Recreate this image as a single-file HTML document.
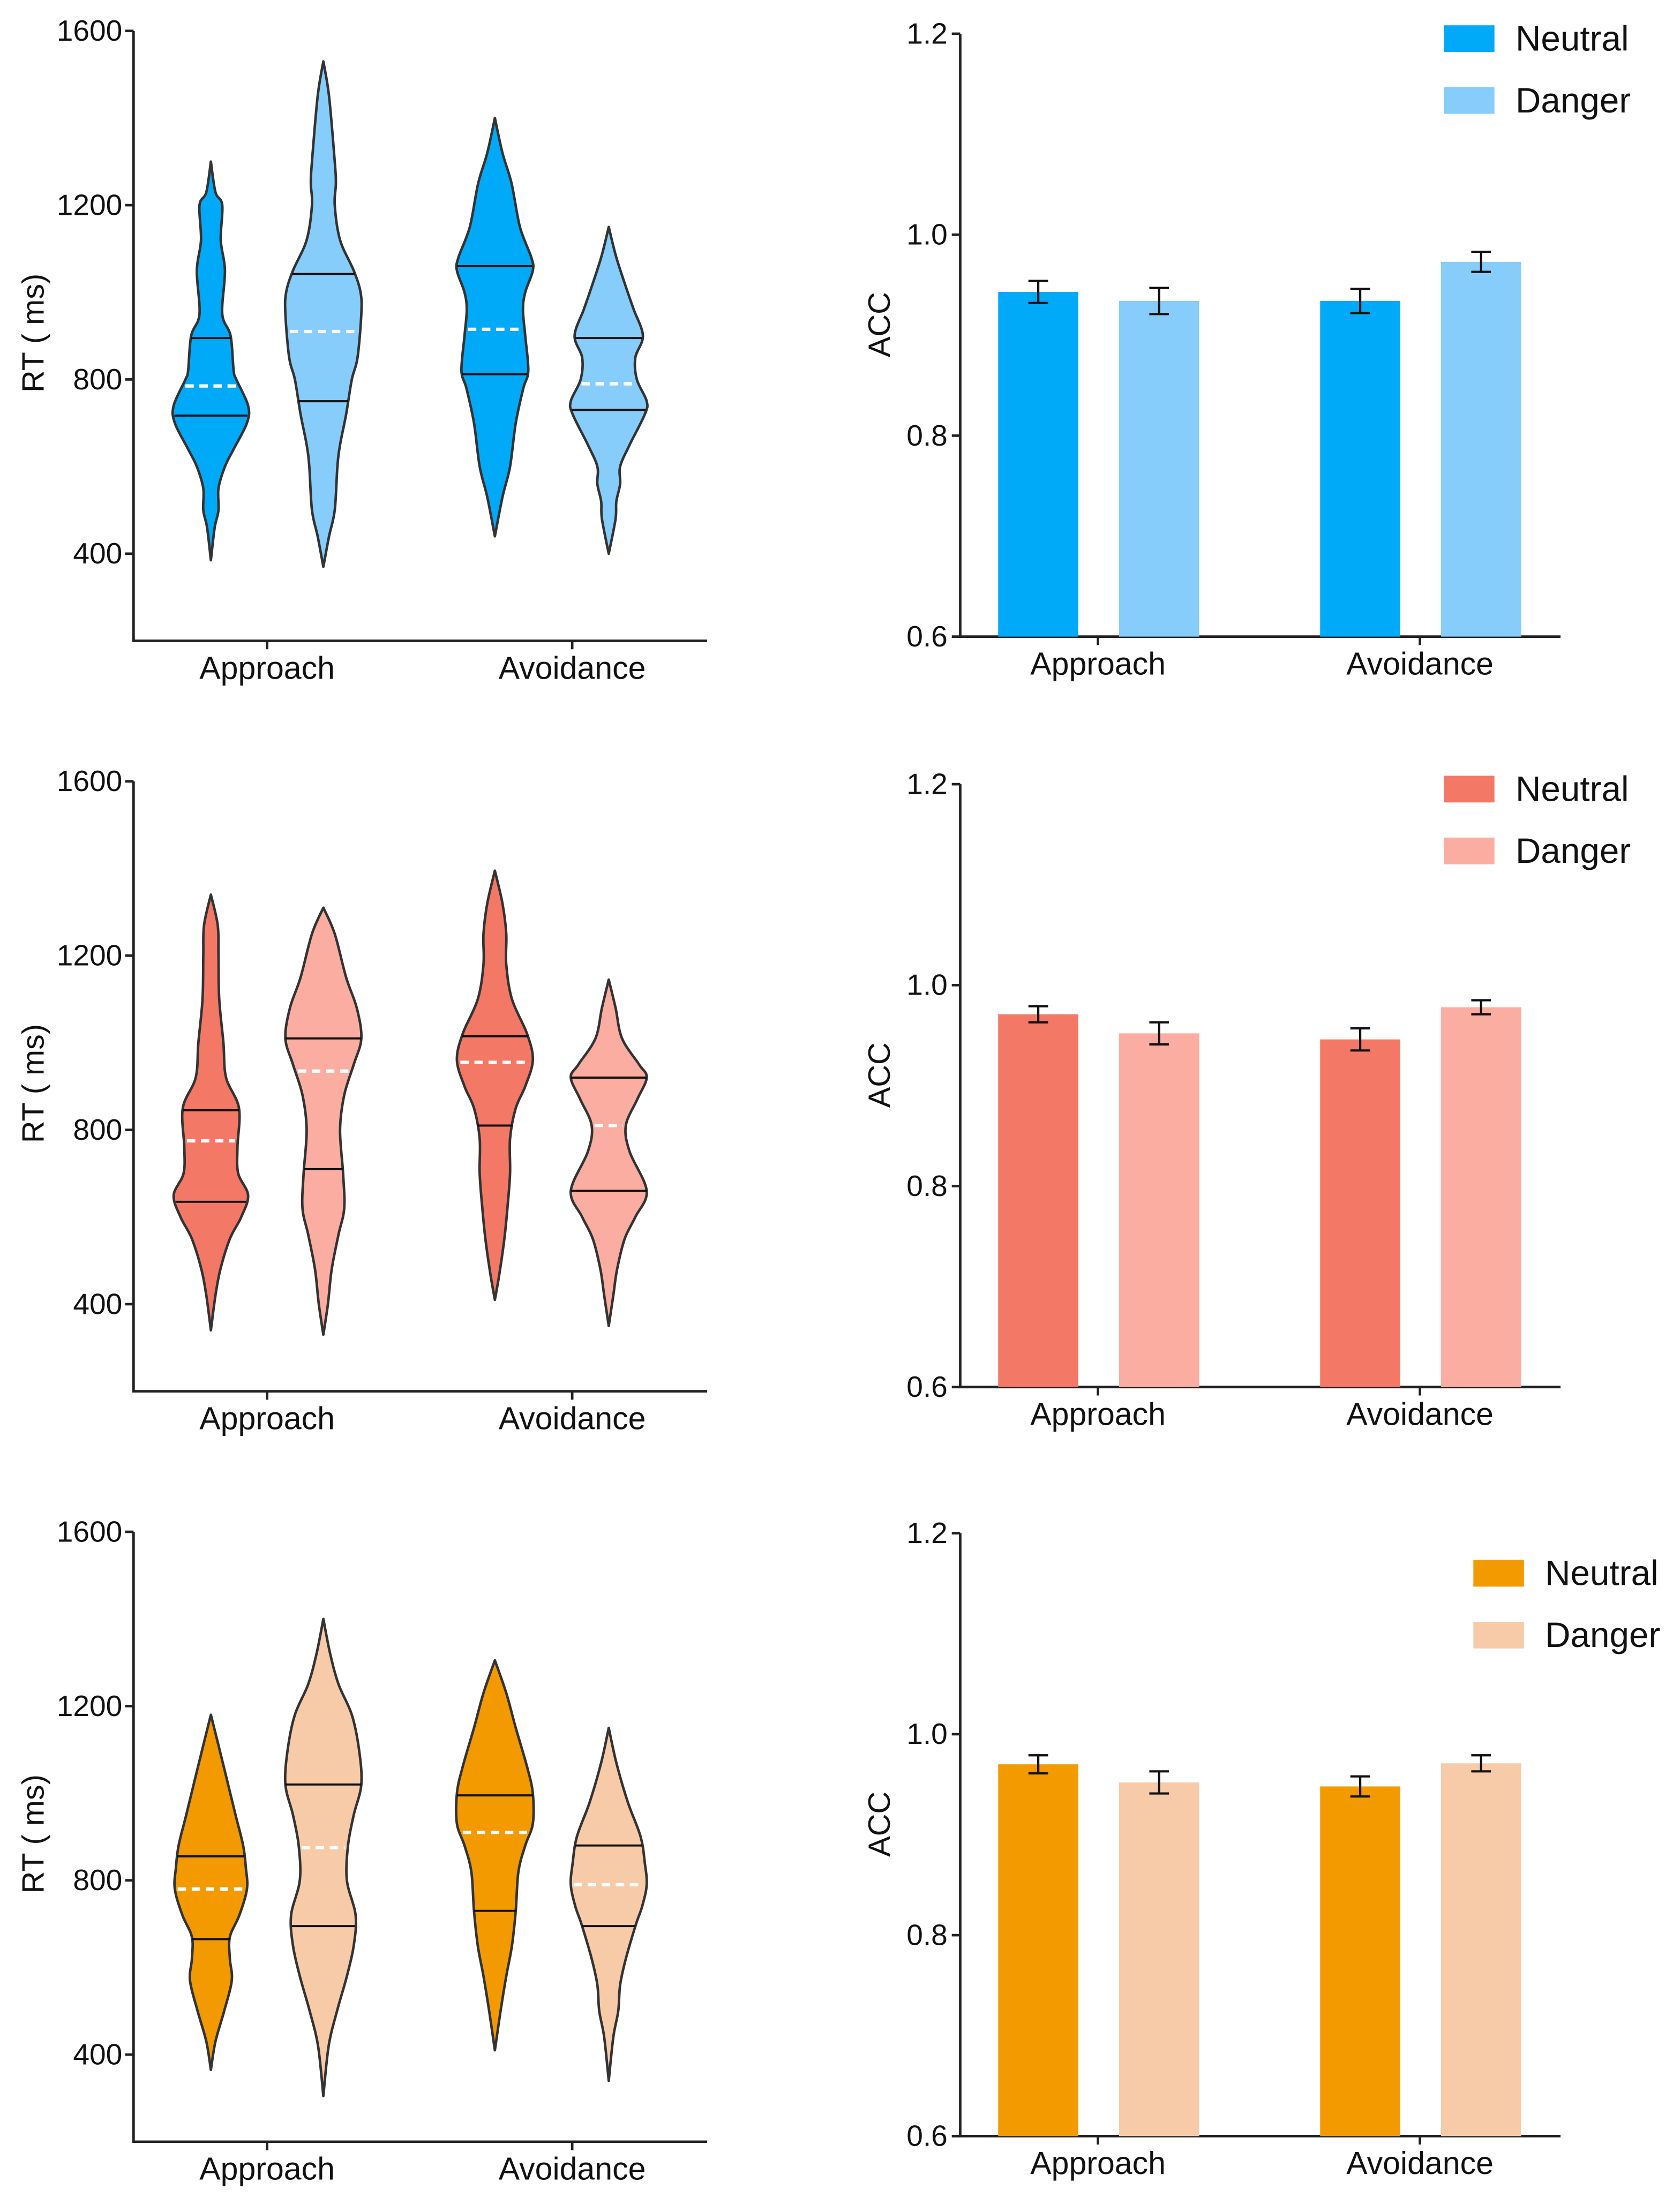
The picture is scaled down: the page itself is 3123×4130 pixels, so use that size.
<!DOCTYPE html>
<html><head><meta charset="utf-8"><style>
html,body{margin:0;padding:0;background:#fff;}
svg{display:block;}
text{font-family:"Liberation Sans",Arial,sans-serif;fill:#111;}
</style></head>
<body>
<svg id="fig" width="3123" height="4130" viewBox="0 0 1190 1574" preserveAspectRatio="none" xmlns="http://www.w3.org/2000/svg"></svg>
<script>
// ---- Data ----
const categories = ["Approach", "Avoidance"];
const seriesNames = ["Neutral", "Danger"];
const rtTicks = [400, 800, 1200, 1600];
const accTicks = [0.6, 0.8, 1.0, 1.2];
const accTickLabels = ["0.6", "0.8", "1.0", "1.2"];
const colorsNeutral = ["#00aaf8", "#f47866", "#f29a00"];
const colorsDanger = ["#86cdfb", "#fbada2", "#f7cba8"];

// ACC means [approach-neutral, approach-danger, avoid-neutral, avoid-danger]
const acc1 = [0.943, 0.934, 0.934, 0.973];
const acc2 = [0.971, 0.952, 0.946, 0.978];
const acc3 = [0.970, 0.952, 0.948, 0.971];
const accErr1 = [0.011, 0.013, 0.012, 0.010];
const accErr2 = [0.008, 0.011, 0.011, 0.007];
const accErr3 = [0.009, 0.011, 0.010, 0.008];

// Violin density profiles: [value, relative half-width (0..1)]
const v1a = [[1300,0],[1230,0.12],[1200,0.3],[1120,0.26],[1050,0.37],[950,0.3],[900,0.52],[820,0.6],[800,0.67],[740,0.98],[700,0.95],[640,0.6],[600,0.37],[550,0.2],[500,0.2],[460,0.1],[385,0]];
const v1b = [[1530,0],[1450,0.15],[1300,0.3],[1250,0.33],[1200,0.3],[1120,0.44],[1050,0.8],[1000,0.98],[950,1.0],[850,0.9],[800,0.75],[720,0.6],[650,0.44],[600,0.37],[500,0.3],[440,0.15],[370,0]];
const v1c = [[1400,0],[1320,0.2],[1250,0.44],[1150,0.66],[1080,0.96],[1050,1.0],[1000,0.8],[960,0.74],[900,0.8],[820,0.88],[780,0.75],[700,0.55],[600,0.4],[530,0.2],[440,0]];
const v1d = [[1150,0],[1080,0.2],[1000,0.5],[960,0.66],[900,0.9],[850,0.7],[800,0.74],[750,1.0],[720,0.95],[650,0.55],[600,0.3],[560,0.3],[520,0.2],[480,0.18],[400,0]];
const v2a = [[1340,0],[1270,0.18],[1200,0.2],[1100,0.22],[1000,0.33],[920,0.4],[850,0.74],[760,0.7],[700,0.72],[650,0.98],[600,0.8],[550,0.5],[480,0.25],[420,0.12],[340,0]];
const v2b = [[1310,0],[1250,0.3],[1150,0.6],[1080,0.88],[1010,1.0],[950,0.8],[880,0.55],[800,0.44],[700,0.52],[620,0.55],[560,0.4],[480,0.22],[400,0.12],[330,0]];
const v2c = [[1395,0],[1320,0.2],[1250,0.3],[1180,0.3],[1100,0.45],[1020,0.85],[960,1.0],[900,0.8],[850,0.55],[780,0.4],[700,0.4],[620,0.33],[550,0.25],[470,0.12],[410,0]];
const v2d = [[1145,0],[1080,0.18],[1010,0.35],[950,0.8],[920,1.0],[870,0.75],[810,0.45],[750,0.55],[660,1.0],[600,0.7],[550,0.42],[480,0.22],[420,0.12],[350,0]];
const v3a = [[1180,0],[1110,0.2],[1050,0.37],[950,0.65],[880,0.85],[830,0.92],[780,0.95],[720,0.75],[670,0.5],[620,0.5],[570,0.55],[500,0.35],[430,0.12],[365,0]];
const v3b = [[1400,0],[1320,0.18],[1250,0.4],[1180,0.75],[1100,0.94],[1020,1.0],[950,0.8],[880,0.65],[800,0.62],[720,0.85],[650,0.8],[580,0.62],[500,0.36],[420,0.14],[305,0]];
const v3c = [[1305,0],[1230,0.3],[1150,0.55],[1060,0.85],[1000,1.0],[930,1.0],[880,0.8],[820,0.62],[730,0.55],[650,0.45],[580,0.3],[500,0.15],[410,0]];
const v3d = [[1150,0],[1070,0.2],[980,0.5],[900,0.84],[840,0.95],[790,1.0],[740,0.88],[700,0.72],[620,0.45],[560,0.3],[500,0.25],[440,0.12],[340,0]];
// Quartiles [q3, q1] and medians
const q1 = [[895,717],[1042,750],[1060,812],[895,730]];
const m1 = [785, 910, 915, 790];
const q2 = [[845,635],[1010,710],[1015,810],[920,660]];
const m2 = [775, 935, 955, 810];
const q3 = [[855,665],[1020,695],[995,730],[880,695]];
const m3 = [780, 875, 910, 790];

const violins = [[v1a,v1b,v1c,v1d],[v2a,v2b,v2c,v2d],[v3a,v3b,v3c,v3d]];
const quarts = [q1,q2,q3];
const medians = [m1,m2,m3];
const accs = [acc1,acc2,acc3];
const accErrs = [accErr1,accErr2,accErr3];

const NS = "http://www.w3.org/2000/svg";
const svg = document.getElementById("fig");
function mk(tag, attrs, parent) {
  const e = document.createElementNS(NS, tag);
  for (const k in attrs) e.setAttribute(k, attrs[k]);
  (parent || svg).appendChild(e);
  return e;
}
function txt(s, attrs, parent) { const t = mk("text", attrs, parent); t.textContent = s; return t; }

const rowTopsL = [22, 556, 1090];
const rowTopsR = [24, 558, 1091];
const violinX = [150, 230, 352, 433];
const catXL = [190, 407];
const barX = [710, 796, 939, 1025];
const barW = 57;
const catXR = [781, 1010];
const maxHW = 27;

function yRT(v, top) { return top + (1600 - v) * (124 / 400); }
function yACC(v, top) { return top + (1.2 - v) * (429 / 0.6); }

function hwAt(prof, v) {
  for (let i = 0; i < prof.length - 1; i++) {
    const a = prof[i], b = prof[i+1];
    if (v <= a[0] && v >= b[0]) { const t = (a[0]-v)/(a[0]-b[0]); return (a[1] + (b[1]-a[1])*t) * maxHW; }
  }
  return 0;
}
function crPath(pts) {
  let d = "M" + pts[0][0] + "," + pts[0][1];
  for (let i = 0; i < pts.length - 1; i++) {
    const p0 = pts[Math.max(i-1,0)], p1 = pts[i], p2 = pts[i+1], p3 = pts[Math.min(i+2, pts.length-1)];
    const c1 = [p1[0] + (p2[0]-p0[0])/6, p1[1] + (p2[1]-p0[1])/6];
    const c2 = [p2[0] - (p3[0]-p1[0])/6, p2[1] - (p3[1]-p1[1])/6];
    d += " C" + c1[0].toFixed(2) + "," + c1[1].toFixed(2) + " " + c2[0].toFixed(2) + "," + c2[1].toFixed(2) + " " + p2[0].toFixed(2) + "," + p2[1].toFixed(2);
  }
  return d;
}

for (let r = 0; r < 3; r++) {
  // ---- Left violin panel ----
  const top = rowTopsL[r];
  const gL = mk("g", {});
  
  
  const bottom = yRT(200, top);
  const ax = mk("path", {d: "M95," + top + " V" + bottom + " H503", fill: "none", stroke: "#222", "stroke-width": 1.8}, gL);
  
  
  rtTicks.forEach(t => {
    const y = yRT(t, top);
    mk("line", {x1: 89, x2: 95, y1: y, y2: y, stroke: "#222", "stroke-width": 1.8}, gL);
    const tl = txt(String(t), {x: 87, y: y + 7, "text-anchor": "end", "font-size": 21}, gL);
    
    
  });
  categories.forEach((c, i) => {
    mk("line", {x1: catXL[i], x2: catXL[i], y1: bottom, y2: bottom + 6, stroke: "#222", "stroke-width": 1.8}, gL);
    const cl = txt(c, {x: catXL[i], y: bottom + 27, "text-anchor": "middle", "font-size": 22.5}, gL);
    
    
  });
  const yt = txt("RT ( ms)", {x: 0, y: 0, "text-anchor": "middle", "font-size": 22, transform: "translate(31," + (top + 215) + ") rotate(-90)"}, gL);
  
  

  for (let k = 0; k < 4; k++) {
    const prof = violins[r][k], cx = violinX[k];
    const right = prof.map(p => [cx + p[1]*maxHW, yRT(p[0], top)]);
    const left = prof.slice().reverse().map(p => [cx - p[1]*maxHW, yRT(p[0], top)]);
    const d = crPath(right) + " " + crPath(left).replace(/^M/, "L") + " Z";
    const fill = (k % 2 === 0) ? colorsNeutral[r] : colorsDanger[r];
    const v = mk("path", {d: d, fill: fill, stroke: "#333", "stroke-width": 1.8, "stroke-linejoin": "round"}, gL);
    
    
    quarts[r][k].forEach(q => {
      const h = hwAt(prof, q), y = yRT(q, top);
      const ql = mk("line", {x1: cx - h, x2: cx + h, y1: y, y2: y, stroke: "#111", "stroke-width": 1.5}, gL);
      
      
    });
    const m = medians[r][k], hm = hwAt(prof, m) - 2, ym = yRT(m, top);
    const ml = mk("line", {x1: cx - hm, x2: cx + hm, y1: ym, y2: ym, stroke: "#fff", "stroke-width": 2.4, "stroke-dasharray": "6,4"}, gL);
    
    
  }

  // ---- Right bar panel ----
  const rt = rowTopsR[r];
  const gR = mk("g", {});
  
  
  const rb = yACC(0.6, rt);
  const ax2 = mk("path", {d: "M683," + rt + " V" + rb + " H1110", fill: "none", stroke: "#222", "stroke-width": 1.8}, gR);
  
  
  accTicks.forEach((t, i) => {
    const y = yACC(t, rt);
    mk("line", {x1: 677, x2: 683, y1: y, y2: y, stroke: "#222", "stroke-width": 1.8}, gR);
    const tl = txt(accTickLabels[i], {x: 674, y: y + 7, "text-anchor": "end", "font-size": 21}, gR);
    
    
  });
  categories.forEach((c, i) => {
    mk("line", {x1: catXR[i], x2: catXR[i], y1: rb, y2: rb + 6, stroke: "#222", "stroke-width": 1.8}, gR);
    const cl = txt(c, {x: catXR[i], y: rb + 27, "text-anchor": "middle", "font-size": 22.5}, gR);
    
    
  });
  const yt2 = txt("ACC", {x: 0, y: 0, "text-anchor": "middle", "font-size": 22, transform: "translate(633," + (rt + 207) + ") rotate(-90)"}, gR);
  
  
  for (let k = 0; k < 4; k++) {
    const val = accs[r][k], e = accErrs[r][k];
    const y = yACC(val, rt);
    const fill = (k % 2 === 0) ? colorsNeutral[r] : colorsDanger[r];
    const b = mk("rect", {x: barX[k], y: y, width: barW, height: rb - y, fill: fill}, gR);
    
    
    const cx = barX[k] + barW/2, y1 = yACC(val + e, rt), y2 = yACC(val - e, rt);
    const eb = mk("path", {d: "M" + cx + "," + y1 + " V" + y2 + " M" + (cx-7) + "," + y1 + " H" + (cx+7) + " M" + (cx-7) + "," + y2 + " H" + (cx+7), stroke: "#111", "stroke-width": 1.6, fill: "none"}, gR);
    
    
  }
  // legend
  const lx = r === 2 ? 1048 : 1027;
  const ly = r === 2 ? 1110 : rt - 6;
  seriesNames.forEach((s, i) => {
    const lg = mk("g", {}, gR);
    
    
    mk("rect", {x: lx, y: ly + i*44, width: 36, height: 19, fill: i === 0 ? colorsNeutral[r] : colorsDanger[r]}, lg);
    txt(s, {x: lx + 51, y: ly + i*44 + 18, "font-size": 25}, lg);
  });
}
</script>
</body></html>
